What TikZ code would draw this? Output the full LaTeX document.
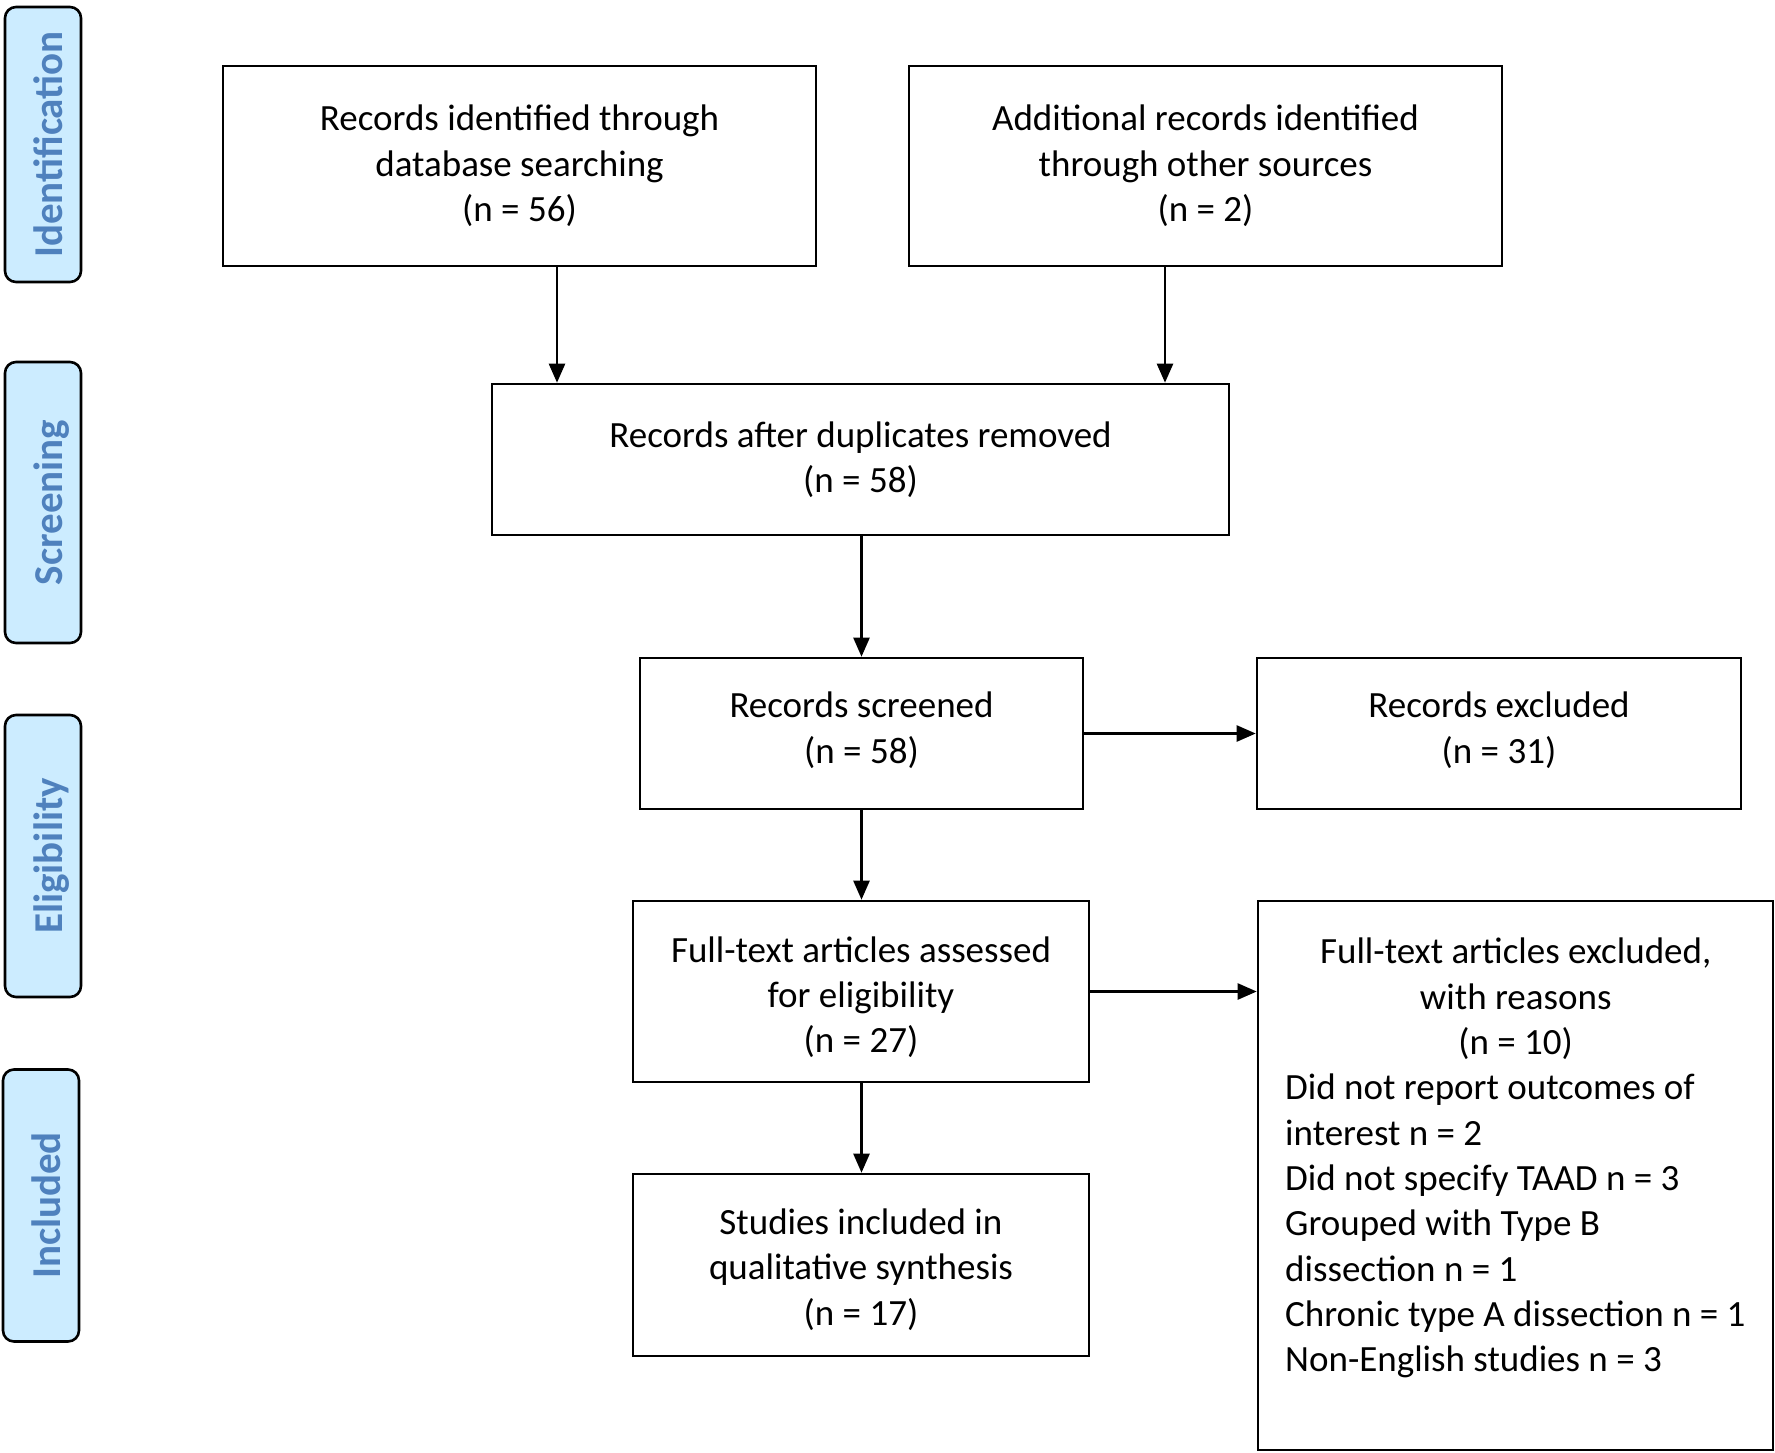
\documentclass[tikz,border=0pt]{standalone}
\usepackage{fontspec}
\setmainfont{Carlito}
\usetikzlibrary{arrows.meta}
\definecolor{tabfill}{HTML}{CCECFF}
\definecolor{tabtext}{HTML}{4F81BD}
\tikzset{
  box/.style={draw=black, line width=2.6pt, fill=white, rectangle, inner sep=0pt, align=center,
    font={\fontsize{37}{45.3}\selectfont}},
  tab/.style={draw=black, line width=2.6pt, fill=tabfill, rounded corners=11pt, rotate=90,
    minimum height=76pt, inner sep=0pt, text height=38pt, text depth=0pt, text=tabtext,
    font={\fontsize{41}{45}\selectfont\bfseries}},
  arr/.style={line width=2.4pt, -{Triangle[length=19pt,width=16pt]}},
  listtext/.style={inner sep=0pt, align=left, font={\fontsize{37}{45.3}\selectfont}}
}
\begin{document}
\begin{tikzpicture}[x=1pt,y=-1pt]
\useasboundingbox (0,0) rectangle (1775,1452);
% phase tabs
\node[tab, minimum width=275pt] (t1) at (43,144.5) {Identification};
\node[tab, minimum width=281pt] (t2) at (43,502.5) {Screening};
\node[tab, minimum width=282pt] (t3) at (43,856) {Eligibility};
\node[tab, minimum width=272pt] (t4) at (41,1205.5) {Included};
% boxes
\node[box, minimum width=593pt, minimum height=200pt] (b1) at (519.5,166) {Records identified through\\database searching\\(n = 56)};
\node[box, minimum width=593pt, minimum height=200pt] (b2) at (1205.5,166) {Additional records identified\\through other sources\\(n = 2)};
\node[box, minimum width=737pt, minimum height=151pt] (b3) at (860.5,459.5) {Records after duplicates removed\\(n = 58)};
\node[box, minimum width=443pt, minimum height=151pt] (b4) at (861.5,733.5) {Records screened\\(n = 58)\rule[-12pt]{0pt}{1pt}};
\node[box, minimum width=484pt, minimum height=151pt] (b5) at (1499,733.5) {Records excluded\\(n = 31)\rule[-12pt]{0pt}{1pt}};
\node[box, minimum width=456pt, minimum height=181pt] (b6) at (861,991.5) {\rule{0pt}{37pt}Full-text articles assessed\\for eligibility\\(n = 27)};
\node[box, minimum width=515pt, minimum height=549pt] (b7) at (1515.5,1175.5) {};
\node[box, minimum width=456pt, minimum height=182pt] (b8) at (861,1265) {\rule{0pt}{35pt}Studies included in\\qualitative synthesis\\(n = 17)};
\node[listtext, anchor=north west] (b7t) at (1285,938) {%
\makebox[461pt][c]{Full-text articles excluded,}\\
\makebox[461pt][c]{with reasons}\\
\makebox[461pt][c]{(n = 10)}\\
Did not report outcomes of\\
interest n = 2\\
Did not specify TAAD n = 3\\
Grouped with Type B\\
dissection n = 1\\
Chronic type A dissection n = 1\\
Non-English studies n = 3};
% connectors
\coordinate (c1) at (557,0);
\coordinate (c2) at (1165,0);
\draw[arr] (b1.south -| c1) -- (b3.north -| c1);
\draw[arr] (b2.south -| c2) -- (b3.north -| c2);
\draw[arr] (b3.south -| b4.north) -- (b4.north);
\draw[arr] (b4.east) -- (b5.west |- b4.east);
\draw[arr] (b4.south) -- (b6.north -| b4.south);
\draw[arr] (b6.east) -- (b7.west |- b6.east);
\draw[arr] (b6.south -| b4.south) -- (b8.north -| b4.south);
\end{tikzpicture}
\end{document}
